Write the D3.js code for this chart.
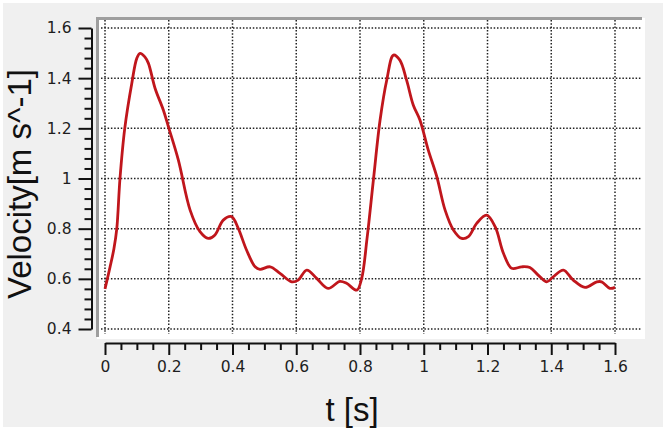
<!DOCTYPE html>
<html>
<head>
<meta charset="utf-8">
<script src="https://d3js.org/d3.v7.min.js"></script>
<style>
  body { margin: 0; background: #fff; }
  .axis-title { font-family: "Liberation Sans", Arial, sans-serif; font-size: 33px; fill: #111; }
</style>
</head>
<body>
<div id="chart"></div>
<script>

// velocity trace (two cardiac cycles)
var timeValues = [
  0.000, 0.016, 0.028, 0.037, 0.047, 0.062, 0.084, 0.100, 0.110, 0.125,
  0.136, 0.157, 0.183, 0.199, 0.230, 0.267, 0.298, 0.324, 0.345, 0.371,
  0.397, 0.418, 0.444, 0.471, 0.486, 0.518, 0.549, 0.586, 0.606, 0.633,
  0.664, 0.700, 0.737, 0.758, 0.790, 0.805, 0.822, 0.842, 0.863, 0.884,
  0.905, 0.925, 0.946, 0.967, 0.988, 1.014, 1.041, 1.067, 1.093, 1.119,
  1.140, 1.166, 1.197, 1.224, 1.250, 1.276, 1.307, 1.333, 1.359, 1.386,
  1.406, 1.438, 1.469, 1.506, 1.543, 1.558, 1.584, 1.600
];
var velocityValues = [
  0.560, 0.648, 0.720, 0.800, 1.000, 1.200, 1.379, 1.480, 1.499, 1.485,
  1.460, 1.360, 1.273, 1.206, 1.074, 0.874, 0.788, 0.761, 0.775, 0.834,
  0.848, 0.801, 0.715, 0.648, 0.638, 0.648, 0.622, 0.588, 0.595, 0.635,
  0.602, 0.562, 0.590, 0.582, 0.555, 0.600, 0.760, 0.994, 1.233, 1.393,
  1.492, 1.472, 1.393, 1.293, 1.233, 1.114, 1.007, 0.874, 0.795, 0.761,
  0.768, 0.821, 0.854, 0.808, 0.702, 0.642, 0.648, 0.645, 0.615, 0.588,
  0.608, 0.635, 0.595, 0.566, 0.588, 0.588, 0.562, 0.566
];

var xTickValues = [0, 0.2, 0.4, 0.6, 0.8, 1, 1.2, 1.4, 1.6];
var yTickValues = [0.4, 0.6, 0.8, 1, 1.2, 1.4, 1.6];
var xLabel = "t [s]";
var yLabel = "Velocity[m s^-1]";

var width = 666, height = 431;

var svg = d3.select("#chart")
  .append("svg")
  .attr("width", width)
  .attr("height", height);

// grey window background
svg.append("rect")
  .attr("x", 3).attr("y", 3)
  .attr("width", 660).attr("height", 424)
  .attr("fill", "#f0f0f0");

var x = d3.scaleLinear().domain([0, 1.6]).range([105, 615]),
    y = d3.scaleLinear().domain([0.4, 1.6]).range([329, 28]);

// white plot panel with sunken border on left / top
svg.append("rect")
  .attr("x", 97).attr("y", 18)
  .attr("width", 548).attr("height", 321)
  .attr("fill", "#fff");

svg.append("path")
  .attr("d", "M97.5,337V18.5H642")
  .attr("fill", "none")
  .attr("stroke", "#9e9e9e")
  .attr("stroke-width", 3);

// dotted grid
var grid = svg.append("g")
  .attr("stroke", "#222")
  .attr("stroke-width", 1.5)
  .attr("stroke-dasharray", "1.5,1.8");

grid.selectAll(".hgrid")
  .data(yTickValues)
  .enter().append("line")
  .attr("class", "hgrid")
  .attr("x1", 101).attr("x2", 641)
  .attr("y1", function(d) { return y(d); })
  .attr("y2", function(d) { return y(d); });

grid.selectAll(".vgrid")
  .data(xTickValues)
  .enter().append("line")
  .attr("class", "vgrid")
  .attr("x1", function(d) { return x(d); })
  .attr("x2", function(d) { return x(d); })
  .attr("y1", 20).attr("y2", 334);

// axes
var fmt = d3.format("~g");

function styleAxis(g) {
  g.selectAll("path, line").attr("stroke", "#111").attr("stroke-width", 2);
  g.selectAll("text")
    .style("font-family", "'DejaVu Sans', Verdana, sans-serif")
    .style("font-size", "15.5px")
    .style("fill", "#1e1e1e");
}

var yMinor = d3.range(0.44, 1.6, 0.04).filter(function(v) {
  return Math.abs(v * 5 - Math.round(v * 5)) > 0.01;
});
var xMinor = d3.range(0.05, 1.6, 0.05).filter(function(v) {
  return Math.abs(v * 5 - Math.round(v * 5)) > 0.01;
});

svg.append("g")
  .attr("transform", "translate(91.5,0)")
  .call(d3.axisLeft(y).tickValues(yTickValues).tickFormat(fmt)
    .tickSize(13).tickPadding(7).tickSizeOuter(0))
  .call(styleAxis);

svg.append("g")
  .attr("transform", "translate(91.5,0)")
  .call(d3.axisLeft(y).tickValues(yMinor).tickFormat("").tickSize(7).tickSizeOuter(0))
  .call(styleAxis)
  .select(".domain").remove();

svg.append("g")
  .attr("transform", "translate(0,343)")
  .call(d3.axisBottom(x).tickValues(xTickValues).tickFormat(fmt)
    .tickSize(12).tickPadding(6).tickSizeOuter(0))
  .call(styleAxis);

svg.append("g")
  .attr("transform", "translate(0,343)")
  .call(d3.axisBottom(x).tickValues(xMinor).tickFormat("").tickSize(7).tickSizeOuter(0))
  .call(styleAxis)
  .select(".domain").remove();

// the velocity curve
var line = d3.line()
  .x(function(d) { return x(d[0]); })
  .y(function(d) { return y(d[1]); })
  .curve(d3.curveCatmullRom);

svg.append("path")
  .datum(d3.zip(timeValues, velocityValues))
  .attr("fill", "none")
  .attr("stroke", "#c0161c")
  .attr("stroke-width", 2.8)
  .attr("stroke-linejoin", "round")
  .attr("d", line);

// axis titles
svg.append("text")
  .attr("class", "axis-title")
  .attr("x", 352).attr("y", 421)
  .attr("text-anchor", "middle")
  .text(xLabel);

svg.append("text")
  .attr("class", "axis-title")
  .attr("transform", "translate(31,184)rotate(-90)")
  .attr("text-anchor", "middle")
  .text(yLabel);

</script>
</body>
</html>
